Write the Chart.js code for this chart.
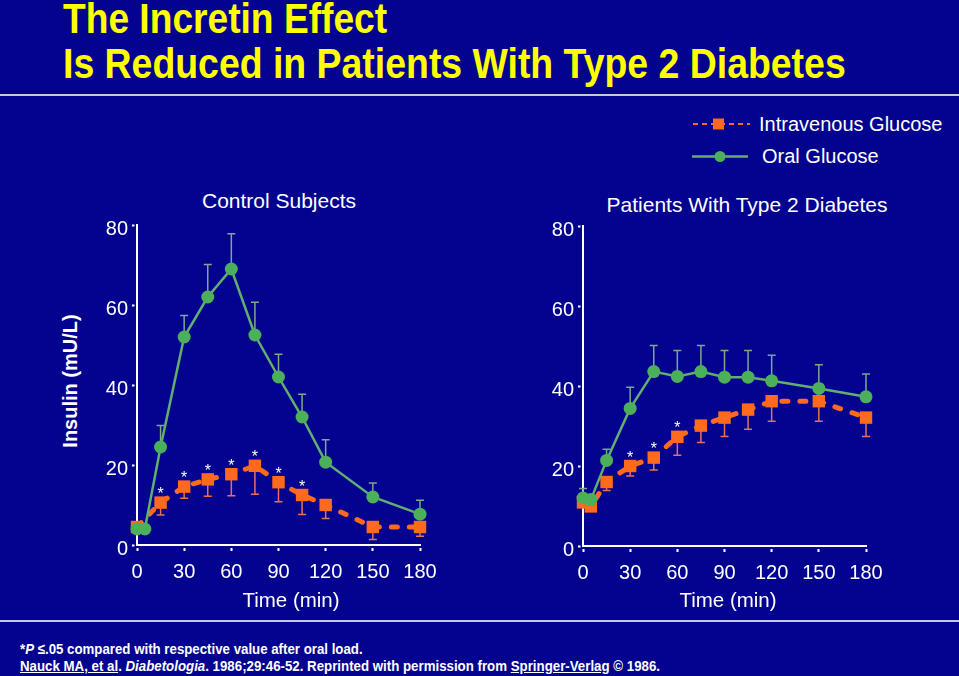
<!DOCTYPE html>
<html><head><meta charset="utf-8">
<script src="https://cdn.jsdelivr.net/npm/chart.js@4.4.1/dist/chart.umd.min.js"></script>
<style>
html,body{margin:0;padding:0;}
body{width:959px;height:676px;background:#03038f;position:relative;overflow:hidden;font-family:"Liberation Sans",Arial,sans-serif;color:#fff;}
.t{position:absolute;white-space:nowrap;line-height:1;}
.narrow{font-family:"Liberation Sans Narrow","Arial Narrow","Liberation Sans",sans-serif;font-weight:bold;transform-origin:0 0;}
.title{color:#ffff00;font-size:43px;}
.hr{position:absolute;left:0;width:959px;height:2px;background:#c8c8dc;}
.chartbox{position:absolute;width:480px;height:420px;}
.ctr{transform:translateX(-50%);}
</style></head>
<body>
<div class="t narrow title fit" data-w="324" style="left:63px;top:-3px;">The Incretin Effect</div>
<div class="t narrow title fit" data-w="783" style="left:63px;top:42px;">Is Reduced in Patients With Type 2 Diabetes</div>
<div class="hr" style="top:94px;"></div>

<svg style="position:absolute;left:685px;top:110px;" width="70" height="60">
  <line x1="8" y1="14" x2="65" y2="14" stroke="#ff6a1c" stroke-width="2" stroke-dasharray="5 4"/>
  <rect x="28" y="8.5" width="11" height="11" fill="#ff6a1c"/>
  <line x1="7" y1="46.5" x2="63" y2="46.5" stroke="#62ad70" stroke-width="2.5"/>
  <circle cx="35" cy="46.5" r="5.5" fill="#4caf5a"/>
</svg>
<div class="t" style="left:759px;top:114px;font-size:20px;">Intravenous Glucose</div>
<div class="t" style="left:762px;top:146px;font-size:20px;">Oral Glucose</div>

<div class="t ctr" style="left:279px;top:190px;font-size:21px;">Control Subjects</div>
<div class="t ctr" style="left:747px;top:194px;font-size:21px;">Patients With Type 2 Diabetes</div>

<div class="t" style="left:70px;top:381px;font-size:20px;font-weight:bold;transform:translate(-50%,-50%) rotate(-90deg);">Insulin (mU/L)</div>

<div class="chartbox" style="left:0px;top:200px;"><canvas id="c1" width="480" height="420"></canvas></div>
<div class="chartbox" style="left:446px;top:201px;"><canvas id="c2" width="480" height="420"></canvas></div>

<div class="t ctr" style="left:291px;top:590px;font-size:20.5px;">Time (min)</div>
<div class="t ctr" style="left:728px;top:590px;font-size:20.5px;">Time (min)</div>

<div class="hr" style="top:620px;"></div>
<div class="t narrow fit" data-w="343" style="left:20px;top:640.5px;font-size:15px;">*<i>P</i> ≤.05 compared with respective value after oral load.</div>
<div class="t narrow fit" data-w="640" style="left:20px;top:657.5px;font-size:15px;"><u>Nauck MA, et al</u>. <i>Diabetologia</i>. 1986;29:46-52. Reprinted with permission from <u>Springer-Verlag</u> © 1986.</div>

<script>
// ---- data ----
const times = [0, 5, 15, 30, 45, 60, 75, 90, 105, 120, 150, 180];
const xTicks = [0, 30, 60, 90, 120, 150, 180];
const yTicks = [0, 20, 40, 60, 80];

// Control subjects
const controlOral    = [4, 4, 24.5, 52, 62, 69, 52.5, 42, 32, 20.7, 12, 7.7];
const controlOralErr = [0, 0, 5.4, 5.4, 8.1, 8.8, 8.2, 5.7, 5.7, 5.6, 3.5, 3.5];
const controlIV      = [4.5, null, 10.6, 14.6, 16.4, 17.7, 19.8, 15.7, 12.5, 10, 4.5, 4.5];
const controlIVErr   = [0, 0, 3.1, 2.9, 4.2, 5.4, 7.1, 4.9, 4.9, 3.4, 3.1, 2.3];
const controlSig     = [false, false, true, true, true, true, true, true, true, false, false, false];

// Patients with type 2 diabetes
const t2dOral    = [12, 11.6, 21.4, 34.4, 43.6, 42.4, 43.6, 42.2, 42.2, 41.3, 39.4, 37.3];
const t2dOralErr = [2.4, 0, 2.8, 5.3, 6.5, 6.5, 6.5, 6.7, 6.7, 6.4, 5.9, 5.7];
const t2dIV      = [10.9, 9.9, 16, 20, 22.1, 27.3, 30.1, 32.1, 34.1, 36.2, 36.2, 32.1];
const t2dIVErr   = [0, 0, 2.1, 2.5, 3.1, 4.6, 4.2, 4.7, 4.9, 5, 5, 4.7];
const t2dSig     = [false, false, false, true, true, true, false, false, false, false, false, false];

const seriesNames = ['Oral Glucose', 'Intravenous Glucose'];

// ---- styling ----
const GREEN = '#4caf5a', GREEN_LINE = '#62ad70', GREEN_ERR = '#7fa888';
const ORANGE = '#ff6a1c', ORANGE_ERR = '#e8705a';
Chart.defaults.font.family = "'Liberation Sans', Arial, sans-serif";

const errorBars = {
  id: 'errorBars',
  beforeDatasetsDraw(chart) {
    const ctx = chart.ctx, ys = chart.scales.y;
    chart.data.datasets.forEach((ds, di) => {
      if (!ds.errors) return;
      const meta = chart.getDatasetMeta(di);
      ctx.save();
      ctx.strokeStyle = ds.errorColor; ctx.lineWidth = 1.5;
      meta.data.forEach((pt, i) => {
        const v = ds.data[i].y, e = ds.errors[i];
        if (v == null || !e) return;
        const yEnd = ys.getPixelForValue(v + ds.errorDir * e);
        ctx.beginPath();
        ctx.moveTo(pt.x, pt.y); ctx.lineTo(pt.x, yEnd);
        ctx.moveTo(pt.x - 4, yEnd); ctx.lineTo(pt.x + 4, yEnd);
        ctx.stroke();
      });
      ctx.restore();
    });
  },
  afterDatasetsDraw(chart) {
    const ctx = chart.ctx;
    chart.data.datasets.forEach((ds, di) => {
      if (!ds.sig) return;
      const meta = chart.getDatasetMeta(di);
      ctx.save();
      ctx.fillStyle = '#fff'; ctx.font = "16px 'Liberation Sans', Arial, sans-serif";
      ctx.textAlign = 'center'; ctx.textBaseline = 'alphabetic';
      meta.data.forEach((pt, i) => {
        if (ds.sig[i] && ds.data[i].y != null) ctx.fillText('*', pt.x, pt.y - 3.5);
      });
      ctx.restore();
    });
  }
};

function makeChart(id, oral, oralErr, iv, ivErr, sig) {
  const toPts = arr => times.map((t, i) => ({x: t, y: arr[i]}));
  return new Chart(document.getElementById(id), {
    type: 'scatter',
    data: {
      datasets: [
        { label: seriesNames[0], data: toPts(oral), showLine: true, tension: 0, clip: false,
          borderColor: GREEN_LINE, borderWidth: 2.5,
          pointStyle: 'circle', pointRadius: 6.5, pointBackgroundColor: GREEN, pointBorderWidth: 0,
          errors: oralErr, errorDir: 1, errorColor: GREEN_ERR },
        { label: seriesNames[1], data: toPts(iv), showLine: true, spanGaps: true, tension: 0, clip: false,
          borderColor: ORANGE, borderWidth: 5, borderDash: [6, 12], borderCapStyle: 'round',
          pointStyle: 'rect', pointRadius: 8.8, pointBackgroundColor: ORANGE, pointBorderWidth: 0,
          errors: ivErr, errorDir: -1, errorColor: ORANGE_ERR, sig: sig }
      ]
    },
    options: {
      responsive: false, animation: false, maintainAspectRatio: false,
      events: [],
      layout: { padding: { left: 77, top: 25, right: 60, bottom: 9 } },
      plugins: { legend: { display: false }, tooltip: { enabled: false } },
      scales: {
        x: {
          type: 'linear', min: 0, max: 180,
          afterBuildTicks: s => { s.ticks = xTicks.map(v => ({value: v})); },
          afterFit: s => { s.height = 66; },
          border: { display: true, color: '#fff', width: 2 },
          grid: { display: true, drawOnChartArea: false, drawTicks: true, tickLength: 6,
                  tickColor: '#fff', tickWidth: 2, tickBorderDash: [0, 2, 3] },
          ticks: { color: '#fff', font: { size: 20 }, padding: 9, maxRotation: 0, autoSkip: false }
        },
        y: {
          type: 'linear', min: 0, max: 80,
          afterBuildTicks: s => { s.ticks = yTicks.map(v => ({value: v})); },
          afterFit: s => { s.width = 60; },
          border: { display: true, color: '#fff', width: 2 },
          grid: { display: true, drawOnChartArea: false, drawTicks: true, tickLength: 5,
                  tickColor: '#fff', tickWidth: 2, tickBorderDash: [2.5, 10] },
          ticks: { color: '#fff', font: { size: 20 }, padding: 4, labelOffset: 4.5, autoSkip: false }
        }
      }
    },
    plugins: [errorBars]
  });
}

makeChart('c1', controlOral, controlOralErr, controlIV, controlIVErr, controlSig);
makeChart('c2', t2dOral, t2dOralErr, t2dIV, t2dIVErr, t2dSig);

document.querySelectorAll('.fit').forEach(el => {
  const w = el.offsetWidth;
  const target = +el.dataset.w;
  el.style.transform = 'scaleX(' + (target / w) + ')';
});
</script>
</body></html>
